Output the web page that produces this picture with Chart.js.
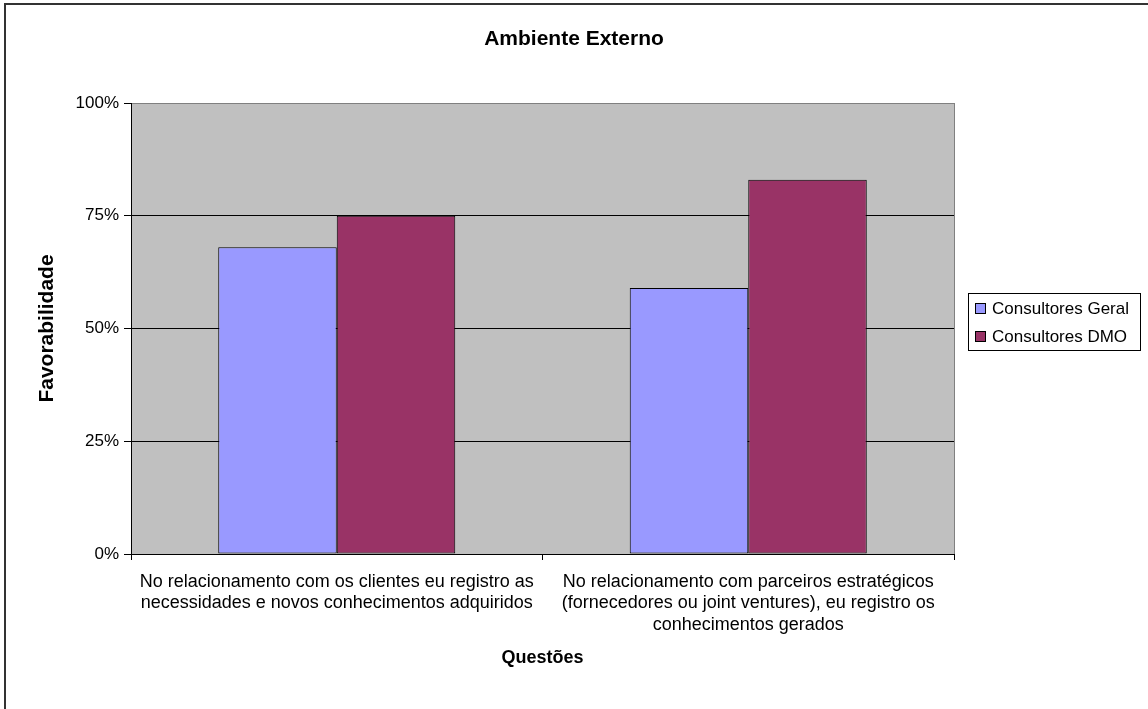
<!DOCTYPE html>
<html>
<head>
<meta charset="utf-8">
<title>Ambiente Externo</title>
<script src="https://cdn.jsdelivr.net/npm/chart.js@4/dist/chart.umd.min.js"></script>
<style>
  html, body { margin: 0; padding: 0; background: #fff; }
  #wrap { width: 1148px; height: 709px; position: relative; }
</style>
</head>
<body>
<div id="wrap"><canvas id="barChart"></canvas></div>
<script>
var chartTitle = 'Ambiente Externo';
var questoes = [
    ['No relacionamento com os clientes eu registro as', 'necessidades e novos conhecimentos adquiridos'],
    ['No relacionamento com parceiros estratégicos', '(fornecedores ou joint ventures), eu registro os', 'conhecimentos gerados']
];
var seriesNames = ['Consultores Geral', 'Consultores DMO'];
var geral = [68, 59];
var dmo = [75, 83];
var yTicks = [0, 25, 50, 75, 100];

var FONT = 'Liberation Sans, Arial, sans-serif';

// gray plot area, frame lines, title and the boxed legend on the right
var excelLook = {
    id: 'excelLook',
    beforeDraw: function (chart) {
        var ctx = chart.ctx;
        var a = chart.chartArea;
        ctx.save();
        ctx.fillStyle = '#c0c0c0';
        ctx.fillRect(a.left, a.top, a.right - a.left, a.bottom - a.top);
        // outer frame (top and left edges only)
        ctx.strokeStyle = '#333';
        ctx.lineWidth = 2;
        ctx.beginPath();
        ctx.moveTo(5, 709);
        ctx.lineTo(5, 4);
        ctx.lineTo(1148, 4);
        ctx.stroke();

        // title, centred over the whole page
        ctx.fillStyle = '#000';
        ctx.font = 'bold 21px ' + FONT;
        ctx.textAlign = 'center';
        ctx.textBaseline = 'middle';
        ctx.fillText(chartTitle, 574, 39);
        ctx.restore();
    },
    afterDraw: function (chart) {
        var ctx = chart.ctx;
        var a = chart.chartArea;
        ctx.save();
        ctx.strokeStyle = '#808080';
        ctx.lineWidth = 1;
        ctx.beginPath();
        ctx.moveTo(Math.round(a.right) + 0.5, a.top);
        ctx.lineTo(Math.round(a.right) + 0.5, a.bottom);
        ctx.stroke();

        // legend
        ctx.strokeStyle = '#000';
        ctx.strokeRect(968.5, 293.5, 172, 57);
        ctx.font = '17px ' + FONT;
        ctx.textBaseline = 'middle';
        chart.data.datasets.forEach(function (ds, i) {
            var cy = 309 + i * 28;
            ctx.fillStyle = ds.backgroundColor;
            ctx.fillRect(975, cy - 5, 10, 10);
            ctx.strokeStyle = '#000';
            ctx.strokeRect(975.5, cy - 5.5, 10, 10);
            ctx.fillStyle = '#000';
            ctx.fillText(ds.label, 992, cy);
        });
        ctx.restore();
    }
};

var barData = {
    labels: questoes,
    datasets: [{
        label: seriesNames[0],
        data: geral,
        backgroundColor: '#9999ff',
        borderColor: '#000',
        borderWidth: 1
    }, {
        label: seriesNames[1],
        data: dmo,
        backgroundColor: '#993366',
        borderColor: '#000',
        borderWidth: 1
    }]
};

var barConfig = {
    type: 'bar',
    data: barData,
    plugins: [excelLook],
    options: {
        responsive: true,
        maintainAspectRatio: false,
        animation: false,
        layout: { padding: { left: 0, right: 194, top: 103, bottom: 0 } },
        datasets: {
            bar: { categoryPercentage: 0.576, barPercentage: 1.0, borderSkipped: false }
        },
        plugins: {
            legend: { display: false },
            tooltip: { enabled: false },
            title: { display: false }
        },
        scales: {
            x: {
                afterFit: function (scale) { scale.height = 155; },
                grid: {
                    offset: true,
                    drawOnChartArea: false,
                    tickLength: 6,
                    tickColor: '#000'
                },
                border: { color: '#000', width: 1 },
                ticks: {
                    color: '#000',
                    font: { family: FONT, size: 18 },
                    padding: 11,
                    maxRotation: 0,
                    autoSkip: false
                },
                title: {
                    display: true,
                    text: 'Questões',
                    color: '#000',
                    font: { family: FONT, size: 18, weight: 'bold' },
                    padding: { top: 0, bottom: 40 }
                }
            },
            y: {
                min: yTicks[0],
                max: yTicks[yTicks.length - 1],
                afterFit: function (scale) { scale.width = 131; },
                afterBuildTicks: function (scale) {
                    scale.ticks = yTicks.map(function (v) { return { value: v }; });
                },
                grid: {
                    color: function (c) { return c.tick && c.tick.value === 100 ? '#808080' : '#000'; },
                    tickColor: '#000',
                    tickLength: 7
                },
                border: { color: '#000', width: 1 },
                ticks: {
                    color: '#000',
                    font: { family: FONT, size: 17 },
                    padding: 5,
                    callback: function (v) { return v + '%'; }
                },
                title: {
                    display: true,
                    text: 'Favorabilidade',
                    color: '#000',
                    font: { family: FONT, size: 21, weight: 'bold' },
                    padding: { top: 35, bottom: 0 }
                }
            }
        }
    }
};

var barChart = new Chart(
    document.getElementById('barChart'),
    barConfig
);
</script>
</body>
</html>
